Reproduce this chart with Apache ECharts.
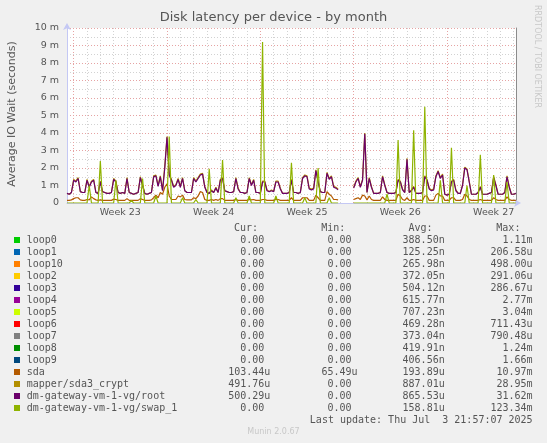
<!DOCTYPE html>
<html><head><meta charset="utf-8">
<script src="https://cdn.jsdelivr.net/npm/echarts@6/dist/echarts.min.js"></script>
<style>html,body{margin:0;padding:0;background:#f0f0f0;}#c{width:547px;height:443px;}</style>
</head><body><div id="c"></div>
<script>
// time: days relative to Monday 00:00 of Week 23, one sample every 4 hours
const startDay = -0.5;
const stepDays = 1 / 6;
const firstWeek = 23;
const weekLabels = ['Week 23', 'Week 24', 'Week 25', 'Week 26', 'Week 27'];
const yTickLabels = ['0', '1 m', '2 m', '3 m', '4 m', '5 m', '6 m', '7 m', '8 m', '9 m', '10 m'];

// values in milliseconds (m = milli-seconds)
const sdaVals = [
0.15,0.15,0.18,0.25,0.3,0.3,0.18,0.15,0.15,0.2,
0.18,0.35,0.25,0.18,0.15,0.18,0.15,0.15,0.15,0.15,
0.15,0.22,0.2,0.15,0.15,0.15,0.15,0.25,0.15,0.15,
0.15,0.15,0.15,0.25,0.2,0.15,0.15,0.15,0.18,0.3,
0.45,0.3,0.6,0.5,0.9,1.1,0.4,0.2,0.2,0.2,
0.4,0.35,0.45,0.2,0.18,0.18,0.18,0.3,0.25,0.4,
0.65,0.6,0.2,0.15,0.15,0.2,0.15,0.2,0.15,0.25,
0.25,0.15,0.15,0.15,0.15,0.15,0.2,0.15,0.15,0.15,
0.15,0.15,0.2,0.18,0.2,0.15,0.15,0.15,0.2,0.2,
0.15,0.15,0.15,0.15,0.2,0.2,0.15,0.15,0.15,0.15,
0.15,0.3,0.15,0.15,0.15,0.15,0.3,0.3,0.3,0.15,
0.15,0.15,0.45,0.3,0.15,0.15,0.15,0.65,0.5,0.4,
0.2,0.2,0.18,null,null,null,null,null,null,0.2,
0.25,0.3,0.2,0.45,0.4,0.18,0.4,0.2,0.15,0.15,
0.15,0.15,0.35,0.2,0.15,0.15,0.15,0.15,0.15,0.5,
0.4,0.2,0.15,0.3,0.15,0.15,0.2,0.15,0.15,0.15,
0.15,0.4,0.4,0.15,0.15,0.15,0.45,0.55,0.4,0.4,
0.15,0.15,0.15,0.3,0.3,0.15,0.15,0.15,0.2,0.5,
0.4,0.2,0.15,0.15,0.15,0.15,0.2,0.15,0.15,0.15,
0.15,0.15,0.3,0.2,0.15,0.15,0.15,0.15,0.35,0.2,
0.15,0.15,0.15];

const cryptVals = [
0.55,0.5,0.6,1.35,1.25,1.45,0.65,0.6,0.6,1.35,
0.95,1.25,1.35,0.6,0.55,1.25,0.65,0.6,0.55,0.55,
0.6,1.4,1.25,0.6,0.55,0.6,0.55,1.45,0.6,0.55,
0.5,0.55,0.6,1.5,1.05,0.55,0.5,0.55,0.6,1.55,
1.6,1.0,1.55,0.75,2.1,3.8,1.65,1.35,0.95,1.05,
1.4,0.95,1.45,0.7,0.6,0.6,0.6,1.45,1.25,1.45,
1.65,1.7,0.95,0.6,0.55,0.75,0.6,0.9,0.6,1.35,
1.45,0.7,0.65,0.6,0.6,0.65,1.45,0.85,0.6,0.6,
0.55,0.6,1.45,1.05,1.35,0.6,0.6,0.55,1.25,1.25,
0.75,0.65,0.75,0.65,1.25,1.25,0.85,0.55,0.55,0.55,
0.6,1.35,0.6,0.6,0.55,0.6,1.45,1.6,1.55,0.85,
0.8,0.85,1.9,1.25,0.65,0.6,0.6,1.75,1.4,1.55,
0.95,0.9,0.8,null,null,null,null,null,null,0.9,
1.25,1.45,0.95,1.35,4.0,0.6,1.45,0.95,0.55,0.55,
0.55,0.6,1.55,1.05,0.6,0.55,0.55,0.55,0.6,1.35,
1.25,0.8,0.6,2.55,0.6,0.75,0.95,0.55,0.55,0.55,
0.6,1.55,1.35,0.85,0.75,0.8,1.55,1.85,1.45,1.65,
0.5,0.45,0.5,1.25,1.35,0.75,0.55,0.55,1.05,2.05,
1.95,1.25,0.5,0.5,0.5,0.6,0.95,0.5,0.5,0.5,
0.55,0.6,1.5,1.05,0.5,0.5,0.5,0.6,1.55,0.95,
0.5,0.5,0.55];

const rootVals = [
0.55,0.5,0.6,1.3,1.2,1.4,0.65,0.6,0.6,1.3,
0.9,1.2,1.3,0.6,0.55,1.2,0.65,0.6,0.55,0.55,
0.6,1.35,1.2,0.6,0.55,0.6,0.55,1.4,0.6,0.55,
0.5,0.55,0.6,1.45,1.0,0.55,0.5,0.55,0.6,1.5,
1.55,0.95,1.5,0.7,2.0,3.75,1.6,1.3,0.9,1.0,
1.35,0.9,1.4,0.7,0.6,0.6,0.6,1.4,1.2,1.4,
1.6,1.65,0.9,0.6,0.55,0.7,0.6,0.85,0.6,1.3,
1.4,0.7,0.65,0.6,0.6,0.65,1.4,0.8,0.6,0.6,
0.55,0.6,1.4,1.0,1.3,0.6,0.6,0.55,1.2,1.2,
0.7,0.65,0.7,0.65,1.2,1.2,0.8,0.55,0.55,0.55,
0.6,1.3,0.6,0.6,0.55,0.6,1.4,1.55,1.5,0.8,
0.75,0.8,1.85,1.2,0.65,0.6,0.6,1.7,1.35,1.5,
0.9,0.85,0.75,null,null,null,null,null,null,0.85,
1.2,1.4,0.9,1.3,3.95,0.6,1.4,0.9,0.55,0.55,
0.55,0.6,1.5,1.0,0.6,0.55,0.55,0.55,0.6,1.3,
1.2,0.75,0.6,2.5,0.6,0.7,0.9,0.55,0.55,0.55,
0.6,1.5,1.3,0.8,0.7,0.75,1.5,1.8,1.4,1.6,
0.5,0.45,0.5,1.2,1.3,0.7,0.55,0.55,1.0,2.0,
1.9,1.2,0.5,0.5,0.5,0.6,0.9,0.5,0.5,0.5,
0.55,0.6,1.45,1.0,0.5,0.5,0.5,0.6,1.5,0.9,
0.5,0.5,0.55];

const swapVals = [
0,0,0,0,0,0,0,0,0,0,
1.0,0,0,0,0,2.4,0,0,0,0,
0,0,1.3,0,0,0,0,0,0,0.15,
0,0,0,0,1.4,0,0,0,0,0,
0.4,0,0,0,0,0,3.8,0,0,0,
0,0,0.3,0,0,0,0,0,0.2,0,
0,0,0,0,1.95,0,0,0,0,0,
2.45,0,0,0,0,0,0.3,0,0,0,
0,0,0.4,0,0,0,0,0,9.2,0,
0,0,0,0,0.4,0,0,0,0,0,
0,2.3,0,0,0,0,0,0.3,0,0,
0,0,0,2.0,0,0,0,0,0.3,0,
0,0,0,null,null,null,null,null,null,0,
0,0,0,0,0,0,0,0,0,0,
0,0,0,0,0.5,0,0,0,0,3.6,
0,0,0,0,0,0,4.15,0,0,0,
0,5.5,0,0,0,0,0,0,1.3,0,
0,0,0,3.15,0,0,0,0,0,0,
1.0,0,0,0,0,0,2.75,0,0,0,
0,0,1.6,0,0,0,0,0,1.2,0,
0,0,0];

// legend table
const legendNames = ['loop0','loop1','loop10','loop2','loop3','loop4','loop5','loop6','loop7','loop8','loop9','sda','mapper/sda3_crypt','dm-gateway-vm-1-vg/root','dm-gateway-vm-1-vg/swap_1'];
const legendColors = ['#00CC00','#0066B3','#FF8000','#FFCC00','#330099','#990099','#CCFF00','#FF0000','#808080','#008F00','#00487D','#B35A00','#B38F00','#6B006B','#8FB300'];
const curVals = ['0.00 ','0.00 ','0.00 ','0.00 ','0.00 ','0.00 ','0.00 ','0.00 ','0.00 ','0.00 ','0.00 ','103.44u','491.76u','500.29u','0.00 '];
const minVals = ['0.00 ','0.00 ','0.00 ','0.00 ','0.00 ','0.00 ','0.00 ','0.00 ','0.00 ','0.00 ','0.00 ','65.49u','0.00 ','0.00 ','0.00 '];
const avgVals = ['388.50n','125.25n','265.98n','372.05n','504.12n','615.77n','707.23n','469.28n','373.04n','419.91n','406.56n','193.89u','887.01u','865.53u','158.81u'];
const maxVals = ['1.11m','206.58u','498.00u','291.06u','286.67u','2.77m','3.04m','711.43u','790.48u','1.24m','1.66m','10.97m','28.95m','31.62m','123.34m'];
const columnHeads = ['Cur:', 'Min:', 'Avg:', 'Max:'];
const lastUpdate = 'Last update: Thu Jul  3 21:57:07 2025';

// ---------- build ----------
const toPairs = vals => vals.map((v, i) => [startDay + i * stepDays, v === null ? '-' : v]);
const xMin = -0.5, xMax = 33.175;
const gridDotRed = { color: '#e6a3a3', type: [1, 2], width: 1 };
const gridDotGrey = { color: '#d2d2d2', type: [1, 2], width: 1 };
const axisBlue = '#c4c8f4';
const mono = '10px "DejaVu Sans Mono"';
const txt = '#555';

const chart = echarts.init(document.getElementById('c'), null, { renderer: 'canvas' });

function lineSeries(name, vals, color) {
  return { name, type: 'line', data: toPairs(vals), showSymbol: false, symbol: 'none',
    connectNulls: false, animation: false, lineStyle: { color, width: 1.2 }, itemStyle: { color },
    xAxisIndex: 0, yAxisIndex: 0 };
}

const graphics = [];
const rowY0 = 240, rowH = 12;
const colRight = [270.3, 357.5, 444.7, 532.6];
const headRight = [258.1, 345.3, 432.5, 520.4];
columnHeads.forEach((h, j) => graphics.push({ type: 'text', x: headRight[j], y: rowY0 - rowH,
  style: { text: h, font: mono, fill: txt, textAlign: 'right', textVerticalAlign: 'middle', verticalAlign: 'middle' } }));
legendNames.forEach((n, i) => {
  const y = rowY0 + i * rowH;
  graphics.push({ type: 'rect', shape: { x: 14, y: y - 3, width: 6, height: 6 }, style: { fill: legendColors[i] } });
  graphics.push({ type: 'text', x: 26.7, y, style: { text: n, font: mono, fill: txt, textAlign: 'left', textVerticalAlign: 'middle', verticalAlign: 'middle' } });
  [curVals, minVals, avgVals, maxVals].forEach((col, j) => graphics.push({ type: 'text', x: colRight[j], y,
    style: { text: col[i], font: mono, fill: txt, textAlign: 'right', textVerticalAlign: 'middle', verticalAlign: 'middle' } }));
});
graphics.push({ type: 'text', x: 532.6, y: rowY0 + legendNames.length * rowH,
  style: { text: lastUpdate, font: mono, fill: txt, textAlign: 'right', textVerticalAlign: 'middle', verticalAlign: 'middle' } });
graphics.push({ type: 'text', x: 273.5, y: 432,
  style: { text: 'Munin 2.0.67', font: '8px "DejaVu Sans"', fill: '#c8c8c8', textAlign: 'center', textVerticalAlign: 'middle', verticalAlign: 'middle' } });
graphics.push({ type: 'text', x: 12, y: 114, rotation: Math.PI / 2,
  style: { text: 'Average IO Wait (seconds)', font: '11px "DejaVu Sans"', fill: txt, textAlign: 'center', textVerticalAlign: 'middle', verticalAlign: 'middle' } });
graphics.push({ type: 'text', x: 537.5, y: 5, rotation: -Math.PI / 2,
  style: { text: 'RRDTOOL / TOBI OETIKER', font: '8px "DejaVu Sans"', fill: '#c8c8c8', textAlign: 'left', textVerticalAlign: 'middle', verticalAlign: 'middle' } });

const option = {
  animation: false,
  backgroundColor: '#f0f0f0',
  title: { text: 'Disk latency per device - by month', left: 'center', top: 11, padding: 0,
    textStyle: { fontFamily: 'DejaVu Sans', fontSize: 13, fontWeight: 'normal', color: '#555' } },
  grid: { left: 67, right: 31, top: 28, bottom: 240, containLabel: false, outerBoundsMode: 'none',
    show: true, backgroundColor: '#ffffff', borderWidth: 0 },
  xAxis: [
    { type: 'value', min: xMin, max: xMax, position: 'bottom',
      axisLine: { show: true, onZero: false, lineStyle: { color: axisBlue, width: 1 }, symbol: ['none', 'arrow'], symbolSize: [6, 7], symbolOffset: [0, 5] },
      axisTick: { show: false }, axisLabel: { show: false }, splitLine: { show: false } },
    { type: 'value', min: xMin, max: xMax, position: 'bottom', splitNumber: 34, minInterval: 1, maxInterval: 1,
      axisLine: { show: false, onZero: false }, axisTick: { show: false }, axisLabel: { show: false },
      splitLine: { show: true, showMinLine: false, showMaxLine: false, lineStyle: gridDotGrey } },
    { type: 'value', min: xMin / 7, max: xMax / 7, position: 'bottom', splitNumber: 5, minInterval: 1, maxInterval: 1,
      axisLine: { show: false, onZero: false }, axisTick: { show: false }, axisLabel: { show: false },
      splitLine: { show: true, showMinLine: false, showMaxLine: false, lineStyle: gridDotRed } },
    { type: 'value', min: xMin / 7 - 0.5, max: xMax / 7 - 0.5, position: 'bottom', splitNumber: 5, minInterval: 1, maxInterval: 1,
      axisLine: { show: false, onZero: false }, axisTick: { show: false }, splitLine: { show: false },
      axisLabel: { show: true, showMinLabel: false, showMaxLabel: false, margin: 5, color: txt, fontFamily: 'DejaVu Sans', fontSize: 9.5,
        formatter: v => (Math.abs(v - Math.round(v)) < 1e-6 && weekLabels[Math.round(v)]) ? weekLabels[Math.round(v)] : '' } }
  ],
  yAxis: [
    { type: 'value', min: 0, max: 10, interval: 1, position: 'left',
      axisLine: { show: true, onZero: false, lineStyle: { color: axisBlue, width: 1 }, symbol: ['none', 'arrow'], symbolSize: [6, 7], symbolOffset: [0, 5] },
      axisTick: { show: false },
      axisLabel: { color: txt, fontFamily: 'DejaVu Sans', fontSize: 9.5, margin: 8, formatter: (v) => yTickLabels[Math.round(v)] },
      splitLine: { show: true, lineStyle: gridDotRed },
      minorTick: { show: false, splitNumber: 2 },
      minorSplitLine: { show: true, lineStyle: gridDotGrey } },
    { type: 'value', min: 0, max: 10, interval: 1, position: 'right',
      axisLine: { show: true, onZero: false, lineStyle: { color: '#8c8c8c', width: 1 } },
      axisTick: { show: false }, axisLabel: { show: false }, splitLine: { show: false } }
  ],
  graphic: graphics,
  series: [
    lineSeries('sda', sdaVals, '#B35A00'),
    lineSeries('mapper/sda3_crypt', cryptVals, '#B38F00'),
    lineSeries('dm-gateway-vm-1-vg/root', rootVals, '#6B006B'),
    lineSeries('dm-gateway-vm-1-vg/swap_1', swapVals, '#8FB300')
  ]
};
chart.setOption(option);
</script></body></html>
